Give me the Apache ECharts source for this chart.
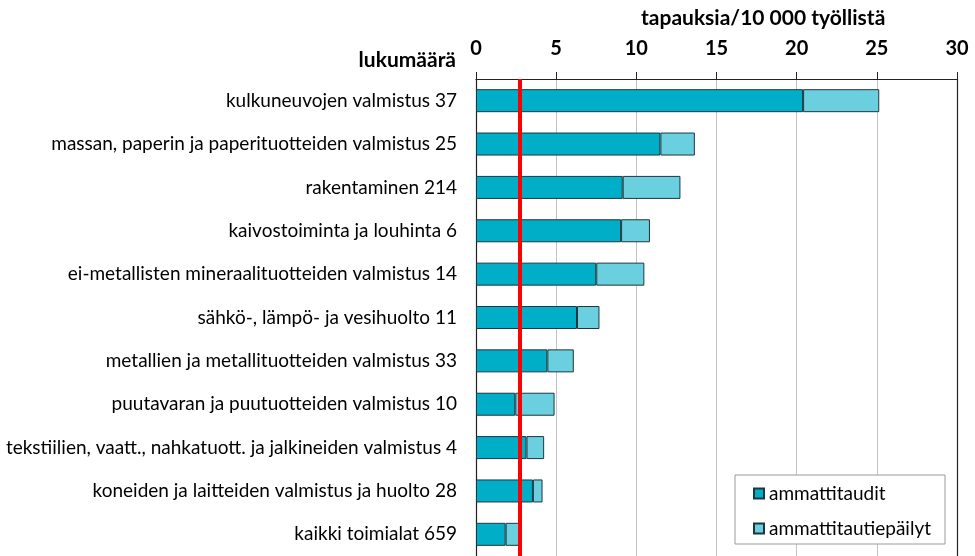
<!DOCTYPE html>
<html>
<head>
<meta charset="utf-8">
<script src="https://cdn.jsdelivr.net/npm/echarts@6/dist/echarts.min.js"></script>
<style>
  html, body { margin: 0; padding: 0; background: #fff; }
  #chart { width: 975px; height: 556px; }
</style>
</head>
<body>
<div id="chart"></div>
<script>
// Toimialat (lukumäärä perässä)
const categories = [
  'kulkuneuvojen valmistus 37',
  'massan, paperin ja paperituotteiden valmistus 25',
  'rakentaminen 214',
  'kaivostoiminta ja louhinta 6',
  'ei-metallisten mineraalituotteiden valmistus 14',
  'sähkö-, lämpö- ja vesihuolto 11',
  'metallien ja metallituotteiden valmistus 33',
  'puutavaran ja puutuotteiden valmistus 10',
  'tekstiilien, vaatt., nahkatuott. ja jalkineiden valmistus 4',
  'koneiden ja laitteiden valmistus ja huolto 28',
  'kaikki toimialat 659'
];

// tapauksia / 10 000 työllistä
const ammattitaudit = [20.4, 11.5, 9.15, 9.05, 7.5, 6.3, 4.45, 2.45, 3.15, 3.55, 1.85];
const ammattitautiepailyt = [4.75, 2.15, 3.6, 1.8, 3.0, 1.4, 1.65, 2.45, 1.1, 0.6, 0.85];

// Kaikkien toimialojen taso (punainen viiva)
const kaikkiTaso = 2.75;

const axisTicks = [0, 5, 10, 15, 20, 25, 30];

const FONT = 'Lato, "Open Sans", sans-serif';
const edge = '#1e3640';

const chart = echarts.init(document.getElementById('chart'), null, { renderer: 'canvas' });

chart.setOption({
  backgroundColor: '#ffffff',
  animation: false,
  textStyle: { fontFamily: FONT, color: '#000' },
  graphic: [
    {
      type: 'text', left: 641, top: 8,
      style: { text: 'tapauksia/10 000 työllistä', fontFamily: FONT, fontSize: 21, fontWeight: 'bold', fill: '#000' }
    },
    {
      type: 'text', right: 975 - 456, top: 50,
      style: { text: 'lukumäärä', fontFamily: FONT, fontSize: 21, fontWeight: 'bold', fill: '#000', textAlign: 'right' }
    }
  ],
  legend: {
    orient: 'vertical',
    left: 735,
    top: 475,
    padding: [9, 14, 6, 18],
    itemGap: 16,
    itemWidth: 10,
    itemHeight: 10,
    icon: 'rect',
    borderColor: '#9a9a9a',
    borderWidth: 1,
    backgroundColor: '#fff',
    textStyle: { fontFamily: FONT, fontSize: 19, lineHeight: 17, color: '#000' },
    data: ['ammattitaudit', 'ammattitautiepäilyt']
  },
  grid: { left: 476, top: 79, width: 481, height: 480, containLabel: false },
  xAxis: {
    type: 'value',
    position: 'top',
    min: axisTicks[0],
    max: axisTicks[axisTicks.length - 1],
    interval: 5,
    axisLine: { show: true, lineStyle: { color: '#222', width: 1.2 } },
    axisTick: { show: true, inside: false, length: 7, lineStyle: { color: '#222' } },
    axisLabel: { margin: 20, fontFamily: FONT, fontSize: 20, fontWeight: 'bold', color: '#000' },
    splitLine: { show: true, lineStyle: { color: '#c4c4c4', width: 1 } }
  },
  yAxis: [
    {
      type: 'category',
      inverse: true,
      data: categories,
      axisLine: { show: true, lineStyle: { color: '#222', width: 1.2 } },
      axisTick: { show: false },
      axisLabel: { margin: 19, fontFamily: FONT, fontSize: 19, color: '#000' }
    },
    {
      type: 'category',
      inverse: true,
      position: 'right',
      data: categories,
      axisLine: { show: true, lineStyle: { color: '#222', width: 1.2 } },
      axisTick: { show: false },
      axisLabel: { show: false }
    }
  ],
  series: [
    {
      name: 'ammattitaudit',
      type: 'bar',
      stack: 'yhteensa',
      barWidth: 23,
      data: ammattitaudit,
      itemStyle: { color: '#00aec8', borderColor: edge, borderWidth: 1 }
    },
    {
      name: 'ammattitautiepäilyt',
      type: 'bar',
      stack: 'yhteensa',
      barWidth: 23,
      data: ammattitautiepailyt,
      itemStyle: { color: '#6acfde', borderColor: edge, borderWidth: 1 },
      markLine: {
        silent: true,
        symbol: 'none',
        label: { show: false },
        lineStyle: { color: '#ff0000', width: 4, type: 'solid' },
        z: 10,
        data: [{ xAxis: kaikkiTaso }]
      }
    }
  ]
});
</script>
</body>
</html>
